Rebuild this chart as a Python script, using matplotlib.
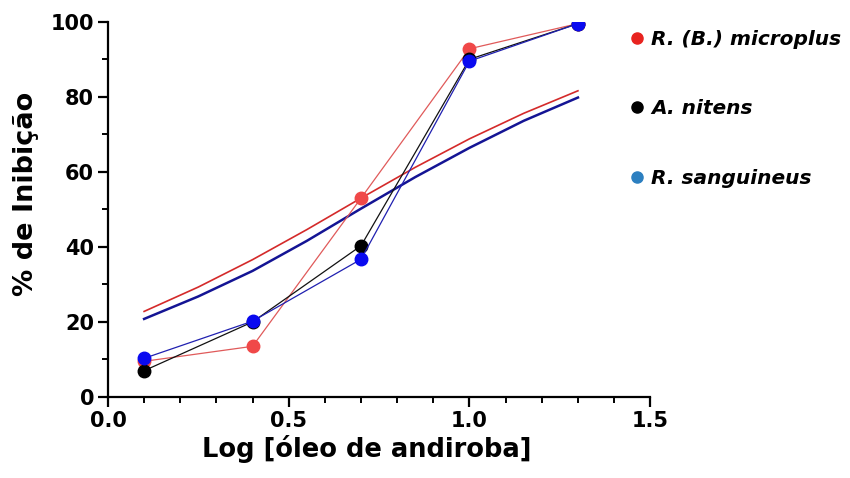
import matplotlib
matplotlib.use("Agg")
import matplotlib.pyplot as plt
from matplotlib.lines import Line2D
from matplotlib.ticker import MultipleLocator

# concentrations (log scale) and % inhibition
log_dose = [0.1, 0.4, 0.7, 1.0, 1.3]
microplus = [9.5, 13.5, 53.0, 92.8, 99.5]
nitens = [7.0, 20.0, 40.3, 90.0, 99.5]
sanguineus = [10.3, 20.2, 36.7, 89.5, 99.5]

# fitted curves
fit_x = [0.1, 0.25, 0.4, 0.55, 0.7, 0.85, 1.0, 1.15, 1.3]
fit_microplus = [22.8, 29.3, 36.6, 44.6, 53.0, 61.2, 68.8, 75.6, 81.6]
fit_sanguineus = [20.8, 26.8, 33.6, 41.6, 50.2, 58.6, 66.4, 73.6, 79.8]

labels = ["R. (B.) microplus", "A. nitens", "R. sanguineus"]
legend_colors = ["#e8231f", "#000000", "#2c7fc0"]

plt.rcParams["font.family"] = ["DejaVu Sans"]
plt.rcParams["font.weight"] = "bold"

fig = plt.figure(figsize=(8.5, 4.78), dpi=100)
ax = fig.add_axes([0.127, 0.1695, 0.638, 0.785])

# fitted curves
ax.plot(fit_x, fit_microplus, color="#d42a2a", lw=1.2, zorder=2)
ax.plot(fit_x, fit_sanguineus, color="#141494", lw=1.8, zorder=2)

# observed points joined by lines
ax.plot(log_dose, microplus, color="#e05a5a", lw=0.9, marker="o", ms=9,
        mfc="#f04848", mec="#f04848", zorder=3)
ax.plot(log_dose, nitens, color="#111111", lw=0.9, marker="o", ms=9,
        mfc="#000000", mec="#000000", zorder=4)
ax.plot(log_dose, sanguineus, color="#2020b0", lw=0.9, marker="o", ms=9,
        mfc="#0a0af0", mec="#0a0af0", zorder=5)

ax.set_xlim(0, 1.5)
ax.set_ylim(0, 100)
ax.xaxis.set_major_locator(MultipleLocator(0.5))
ax.xaxis.set_minor_locator(MultipleLocator(0.1))
ax.yaxis.set_major_locator(MultipleLocator(20))
ax.yaxis.set_minor_locator(MultipleLocator(10))
ax.xaxis.set_major_formatter(matplotlib.ticker.FormatStrFormatter("%.1f"))

for side in ["top", "right"]:
    ax.spines[side].set_visible(False)
for side in ["left", "bottom"]:
    ax.spines[side].set_linewidth(1.6)
ax.tick_params(which="major", length=7, width=1.6, labelsize=15, pad=3)
ax.tick_params(which="minor", length=4.5, width=1.4)

ax.set_xlabel("Log [óleo de andiroba]", fontsize=18.5, fontweight="bold")
ax.set_ylabel("% de Inibição", fontsize=19.5, fontweight="bold")
ax.xaxis.set_label_coords(0.478, -0.102)
ax.yaxis.set_label_coords(-0.128, 0.54)

handles = [Line2D([], [], ls="none", marker="o", ms=8, mfc=c, mec=c)
           for c in legend_colors]
fig.legend(handles, labels, loc="upper left", bbox_to_anchor=(0.722, 0.975),
           frameon=False, handlelength=0.5, handletextpad=0.45,
           labelspacing=2.5, prop={"size": 14.5, "weight": "bold", "style": "italic"})

fig.savefig("out.png", dpi=100)
